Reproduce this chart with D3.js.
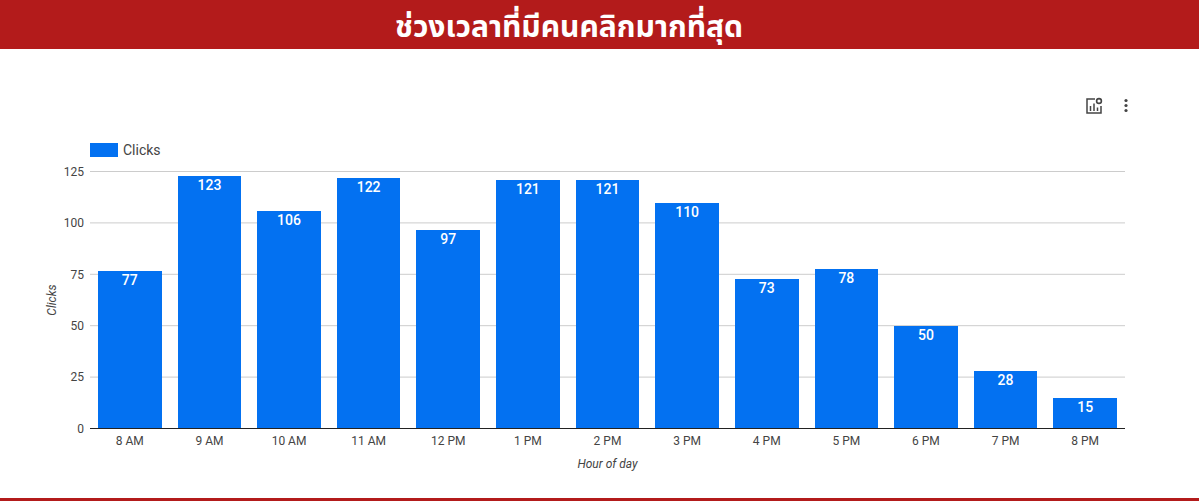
<!DOCTYPE html>
<html>
<head>
<meta charset="utf-8">
<script src="https://cdnjs.cloudflare.com/ajax/libs/d3/7.8.5/d3.min.js"></script>
<style>
  html, body { margin: 0; padding: 0; background: #fff; overflow: hidden; }
  text { font-family: Roboto, sans-serif; }
</style>
</head>
<body>
<div id="content"></div>
<script>
var titleText = "ช่วงเวลาที่มีคนคลิกมากที่สุด"
var hours = ["8 AM", "9 AM", "10 AM", "11 AM", "12 PM", "1 PM", "2 PM", "3 PM", "4 PM", "5 PM", "6 PM", "7 PM", "8 PM"]
var clicks = [77, 123, 106, 122, 97, 121, 121, 110, 73, 78, 50, 28, 15]
var yTicks = [0, 25, 50, 75, 100, 125]
var seriesName = "Clicks"
var xAxisName = "Hour of day"

var width = 1199, height = 501
var blue = "#0371f1", red = "#b31b1b"

var svg = d3.select("#content").append("svg")
  .attr("width", width)
  .attr("height", height)
  .style("display", "block")

// header and bottom rule
svg.append("rect").attr("x", 0).attr("y", 0).attr("width", width).attr("height", 49).attr("fill", red)
svg.append("rect").attr("x", 0).attr("y", 498).attr("width", width).attr("height", 3).attr("fill", red)
svg.append("text")
  .attr("x", 569).attr("y", 37)
  .attr("text-anchor", "middle")
  .attr("fill", "#fff")
  .style("font-family", "'Noto Sans Thai', 'Noto Sans', 'DejaVu Sans', sans-serif")
  .style("font-size", "30px")
  .style("font-weight", "bold")
  .text(titleText)

var x = d3.scaleBand().domain(hours).range([90, 1125]).paddingInner(0.2).paddingOuter(0.1)
var y = d3.scaleLinear().domain([0, 125]).range([428.5, 171.5])

// gridlines
svg.append("g")
  .selectAll("line")
  .data(yTicks.filter(function(d){ return d > 0 }))
  .join("line")
  .attr("x1", 90).attr("x2", 1125)
  .attr("y1", function(d){ return y(d) })
  .attr("y2", function(d){ return y(d) })
  .attr("stroke", "#cccccc")

// bars, snapped to whole pixels
function barLeft(i){ return Math.round(x(hours[i])) }
function barRight(i){ return Math.round(x(hours[i]) + x.bandwidth()) }
function barTop(d){ return Math.ceil(y(d)) }

svg.append("g")
  .selectAll("rect")
  .data(clicks)
  .join("rect")
  .attr("x", function(d, i){ return barLeft(i) })
  .attr("y", function(d){ return barTop(d) })
  .attr("width", function(d, i){ return barRight(i) - barLeft(i) })
  .attr("height", function(d){ return 428 - barTop(d) })
  .attr("fill", blue)

// bar labels
svg.append("g")
  .selectAll("text")
  .data(clicks)
  .join("text")
  .attr("x", function(d, i){ return x(hours[i]) + x.bandwidth() / 2 })
  .attr("y", function(d){ return barTop(d) + 14 })
  .attr("text-anchor", "middle")
  .attr("fill", "#fff")
  .style("font-size", "14px")
  .style("font-weight", "500")
  .text(function(d){ return d })

// axes
var yAxis = svg.append("g")
  .attr("transform", "translate(90,0)")
  .call(d3.axisLeft(y).tickValues(yTicks).tickSize(0).tickPadding(6))
yAxis.select(".domain").remove()
yAxis.selectAll("text").attr("fill", "#444").style("font-size", "12px")

var xAxis = svg.append("g")
  .attr("transform", "translate(0,428.5)")
  .call(d3.axisBottom(x).tickSize(0).tickPadding(8))
xAxis.select(".domain").remove()
xAxis.selectAll("text").attr("fill", "#444").style("font-size", "12px")

svg.append("line")
  .attr("x1", 90).attr("x2", 1125)
  .attr("y1", y(0)).attr("y2", y(0))
  .attr("stroke", "#222")

// axis titles
svg.append("text")
  .attr("x", 607.5).attr("y", 468)
  .attr("text-anchor", "middle")
  .attr("fill", "#444")
  .style("font-size", "12px")
  .style("font-style", "italic")
  .text(xAxisName)

svg.append("text")
  .attr("transform", "translate(56,300) rotate(-90)")
  .attr("text-anchor", "middle")
  .attr("fill", "#444")
  .style("font-size", "12px")
  .style("font-style", "italic")
  .text(seriesName)

// legend
svg.append("rect").attr("x", 90).attr("y", 143).attr("width", 28).attr("height", 14).attr("fill", blue)
svg.append("text")
  .attr("x", 123).attr("y", 155)
  .attr("fill", "#444")
  .style("font-size", "14px")
  .text(seriesName)

// toolbar icons
var icon = svg.append("g").attr("transform", "translate(1086,98)")
icon.append("path")
  .attr("d", "M9 1H1v14h14V8")
  .attr("fill", "none").attr("stroke", "#444").attr("stroke-width", 1.5)
icon.append("path")
  .attr("d", "M4.5 13V8M8 13V5.5M11.5 13V9.5")
  .attr("fill", "none").attr("stroke", "#444").attr("stroke-width", 1.5)
icon.append("circle")
  .attr("cx", 13).attr("cy", 3).attr("r", 2.4)
  .attr("fill", "none").attr("stroke", "#444").attr("stroke-width", 1.6)

svg.append("g")
  .selectAll("circle")
  .data([100.5, 105.5, 110.5])
  .join("circle")
  .attr("cx", 1126)
  .attr("cy", function(d){ return d })
  .attr("r", 1.6)
  .attr("fill", "#444")
</script>
</body>
</html>
